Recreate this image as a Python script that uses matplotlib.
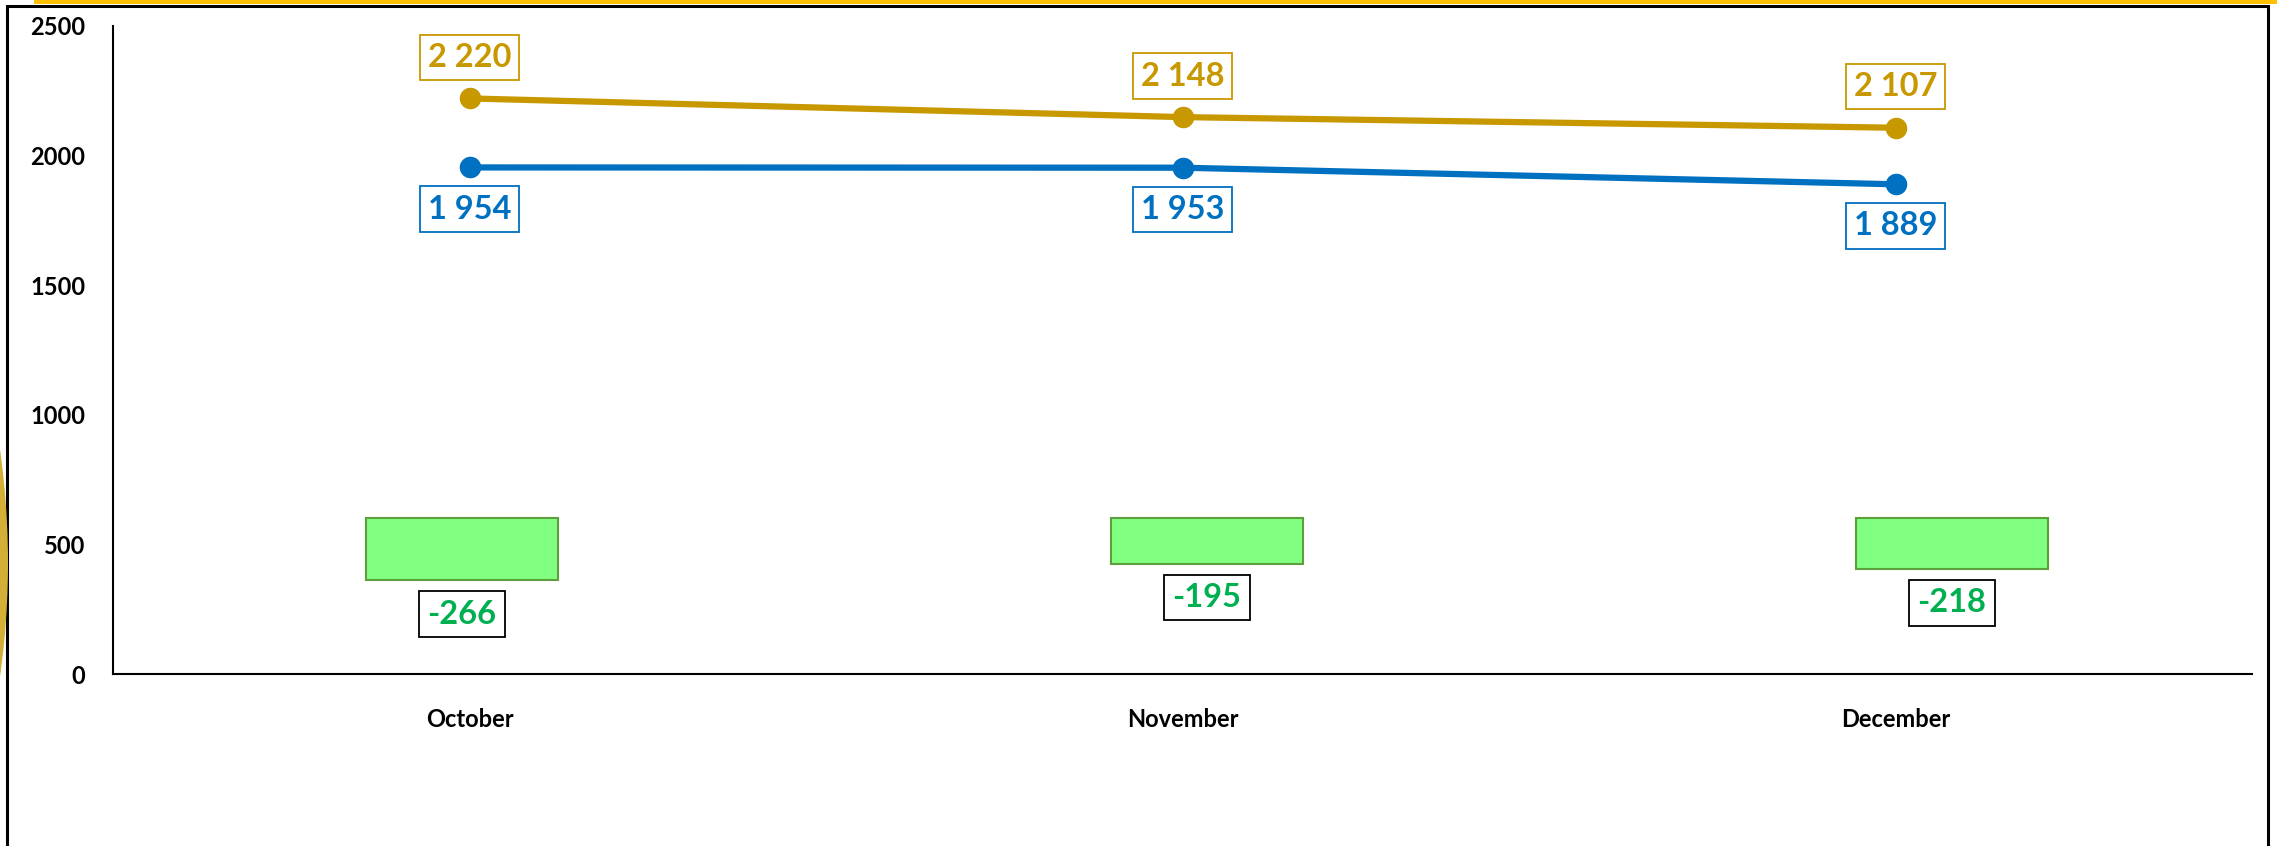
import numpy as np
import matplotlib.pyplot as plt
from matplotlib.patches import Rectangle, Ellipse

plt.rcParams['font.family'] = ['Lato', 'DejaVu Sans']

# data
months = ["October", "November", "December"]
gold_vals = [2220, 2148, 2107]
blue_vals = [1954, 1953, 1889]
diff_vals = [b - g for b, g in zip(blue_vals, gold_vals)]

W, H = 2277, 846
fig = plt.figure(figsize=(W / 100, H / 100), dpi=100)
fig.patch.set_facecolor("white")

# plot area in pixels
px_l, px_r, px_t, px_b = 113, 2252, 25.8, 674.3
rect = [px_l / W, 1 - px_b / H, (px_r - px_l) / W, (px_b - px_t) / H]

# secondary axes for the difference bars (own scale, like Excel)
ax2 = fig.add_axes(rect)
ax2.set_xlim(-0.4685, 2.4027)
ax2.set_ylim(0, 2795)
ax2.axis("off")
bar_top = 672
x = np.arange(len(months))
ax2.bar(x, diff_vals, bottom=bar_top, width=0.258, color="#80FF80",
        edgecolor="#5E9E3E", linewidth=1.5, zorder=2)
for i, d in enumerate(diff_vals):
    ax2.annotate(str(d), (i, bar_top + d), xytext=(0, -24.5), textcoords="offset points",
                 ha="center", va="center", color="#00B050", fontsize=23.5, fontweight="bold",
                 bbox=dict(boxstyle="square,pad=0.25", fc="white", ec="black", lw=1.3))

ax = fig.add_axes(rect)
ax.patch.set_alpha(0)
ax.plot(x, gold_vals, color="#C89800", lw=4.5, marker="o", ms=14.5, zorder=3)
ax.plot(x, blue_vals, color="#0070C0", lw=4.5, marker="o", ms=14.5, zorder=3)

def fmt(v):
    return f"{v:,}".replace(",", " ")

for i, v in enumerate(gold_vals):
    ax.annotate(fmt(v), (i, v), xytext=(0, 29.5), textcoords="offset points",
                ha="center", va="center", color="#C89800", fontsize=23.5, fontweight="bold",
                bbox=dict(boxstyle="square,pad=0.25", fc="white", ec="#C89800", lw=1.3))
for i, v in enumerate(blue_vals):
    ax.annotate(fmt(v), (i, v), xytext=(0, -30), textcoords="offset points",
                ha="center", va="center", color="#0070C0", fontsize=23.5, fontweight="bold",
                bbox=dict(boxstyle="square,pad=0.25", fc="white", ec="#0070C0", lw=1.3))

ax.set_xlim(-0.5, 2.5)
ax.set_ylim(0, 2500)
ax.set_yticks(np.arange(0, 2501, 500))
ax.set_xticks(x)
ax.set_xticklabels(months)
ax.tick_params(axis="y", length=0, labelsize=17, pad=20)
ax.tick_params(axis="x", length=0, labelsize=17, pad=24)
for lbl in ax.get_xticklabels() + ax.get_yticklabels():
    lbl.set_fontweight("bold")
for s in ["top", "right"]:
    ax.spines[s].set_visible(False)
for s in ["left", "bottom"]:
    ax.spines[s].set_linewidth(1.5)

# slide decoration: frame, gold top line, gold arc at left
fig.patches.append(Rectangle((7 / W, -0.1), (2268 - 7) / W, 1.1 - 5.7 / H,
                             transform=fig.transFigure, fill=False, ec="black", lw=2.2, zorder=0))
fig.patches.append(Rectangle((34 / W, 1 - 4 / H), 1, 4 / H, transform=fig.transFigure,
                             color="#FFC000", lw=0, zorder=1))
fig.patches.append(Ellipse((-200 / W, 1 - 563 / H), 416 / W, 826 / H, transform=fig.transFigure,
                           color="#D4AF37", lw=0, zorder=1))

fig.savefig("out.png", dpi=100)
